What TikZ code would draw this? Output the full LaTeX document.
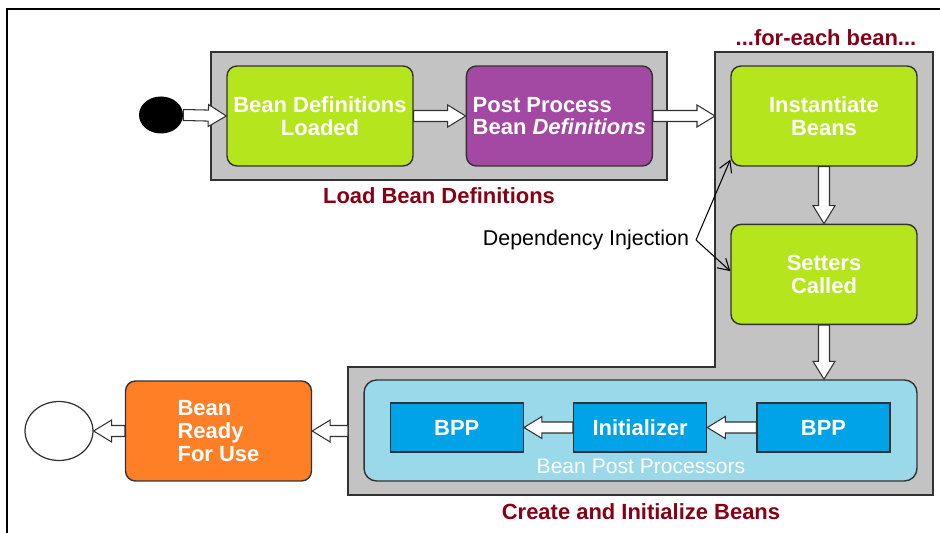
\documentclass[tikz,border=0pt]{standalone}
\usepackage{fontspec}
\setmainfont{Liberation Sans}
\usepackage{tikz}
\usetikzlibrary{arrows.meta,positioning,shapes.geometric,calc}
\usepackage{xcolor}
\definecolor{paintlime}{HTML}{B5E61D}
\definecolor{paintpurple}{HTML}{A349A4}
\definecolor{paintorange}{HTML}{FF7F27}
\definecolor{lightturq}{HTML}{99D9EA}
\definecolor{turq}{HTML}{00A2E8}
\definecolor{panelgray}{HTML}{C3C3C3}
\definecolor{paintdarkred}{HTML}{880015}
\definecolor{edgegray}{RGB}{50,50,50}
\tikzset{
  state/.style={rectangle, rounded corners=0.2cm, draw=edgegray, line width=0.8pt, fill=paintlime,
                text=white, minimum width=3.72cm, minimum height=2cm, align=center,
                font=\bfseries\fontsize{12.5}{13}\selectfont},
  statepurple/.style={state, fill=paintpurple, align=left},
  stateorange/.style={state, fill=paintorange, align=left},
  processor/.style={rectangle, draw=edgegray, line width=0.8pt, fill=turq, text=white,
                minimum width=2.66cm, minimum height=0.98cm, font=\bfseries\fontsize{12.5}{13}\selectfont},
  processorgroup/.style={rectangle, rounded corners=0.25cm, draw=edgegray, line width=0.8pt, fill=lightturq,
                minimum width=11.06cm, minimum height=2.02cm},
  panel/.style={draw=edgegray, line width=0.7pt, fill=panelgray},
  caption/.style={font=\bfseries\fontsize{12.5}{13}\selectfont, text=paintdarkred},
  fatarrow/.style={draw=edgegray, line width=0.6pt, fill=white, line join=miter},
  inject/.style={-{Straight Barb[length=2.2mm, width=2.6mm]}, line width=0.6pt, black},
}
% hollow block arrow from #1 to #2
\newcommand{\blockarrow}[2]{%
  \coordinate (ba-base) at ($(#2)!0.36cm!(#1)$);
  \draw[fatarrow] ($(#1)!0.11cm!90:(#2)$) -- ($(ba-base)!0.11cm!-90:(#1)$)
    -- ($(ba-base)!0.22cm!-90:(#1)$) -- (#2) -- ($(ba-base)!0.22cm!90:(#1)$)
    -- ($(ba-base)!0.11cm!90:(#1)$) -- ($(#1)!0.11cm!-90:(#2)$) -- cycle;}

\begin{document}
\begin{tikzpicture}[x=0.02cm, y=-0.02cm]
\useasboundingbox (0,0) rectangle (940,533);
\draw[line width=1.6pt] (7,545) -- (7,9) -- (950,9);

% panels
\node[panel, rectangle, minimum width=9.12cm, minimum height=2.56cm] (loadpanel) at (439,116) {};
\draw[panel] (715,52) -- (933,52) -- (933,495) -- (348,495) -- (348,367) -- (715,367) -- cycle;
\node[caption] at (439,196) {Load Bean Definitions};
\node[caption] at (826,38) {...for-each bean...};
\node[caption] at (641,512) {Create and Initialize Beans};

% load phase
\node[ellipse, fill=black, minimum width=0.88cm, minimum height=0.74cm, inner sep=0pt] (start) at (161,115) {};
\node[state] (bdl) at (320,116) {Bean Definitions\\Loaded};
\node[statepurple, right=1.04cm of bdl] (pp) {Post Process\\Bean \textit{Definitions}};

% per bean
\node[state] (inst) at (824,116) {Instantiate\\Beans};
\node[state, below=1.14cm of inst] (setters) {Setters\\Called};
\node[processorgroup] (bpg) at (640.5,430.5) {};
\node[processor] (bppa) at (823.5,427.5) {BPP};
\node[processor, left=0.98cm of bppa] (init) {Initializer};
\node[processor, left=0.98cm of init] (bppb) {BPP};
\node[font=\fontsize{12}{14}\selectfont, text=white] at (641,466) {Bean Post Processors};

% ready
\node[stateorange] (ready) at (218.5,431) {Bean\\Ready\\For Use};
\node[ellipse, draw=edgegray, line width=0.7pt, fill=white, minimum width=1.36cm, minimum height=1.18cm] (end) at (59,431) {};

\coordinate (eachin) at (715,116);
\coordinate (bpgin) at (setters.south |- bpg.north);
\coordinate (createout) at (348,431);
\foreach \a/\b in {start.east/bdl.west, bdl.east/pp.west, pp.east/eachin, inst.south/setters.north,
                   setters.south/bpgin, bppa.west/init.east, init.west/bppb.east,
                   createout/ready.east, ready.west/end.east}
  {\blockarrow{\a}{\b}}

% dependency injection
\node[font=\fontsize{12.2}{14}\selectfont] (di) at (586,240) {Dependency Injection};
\coordinate (dij) at (696,240);
\draw[inject] (dij) -- (inst.205);
\draw[inject] (dij) -- (setters.178);
\end{tikzpicture}
\end{document}
